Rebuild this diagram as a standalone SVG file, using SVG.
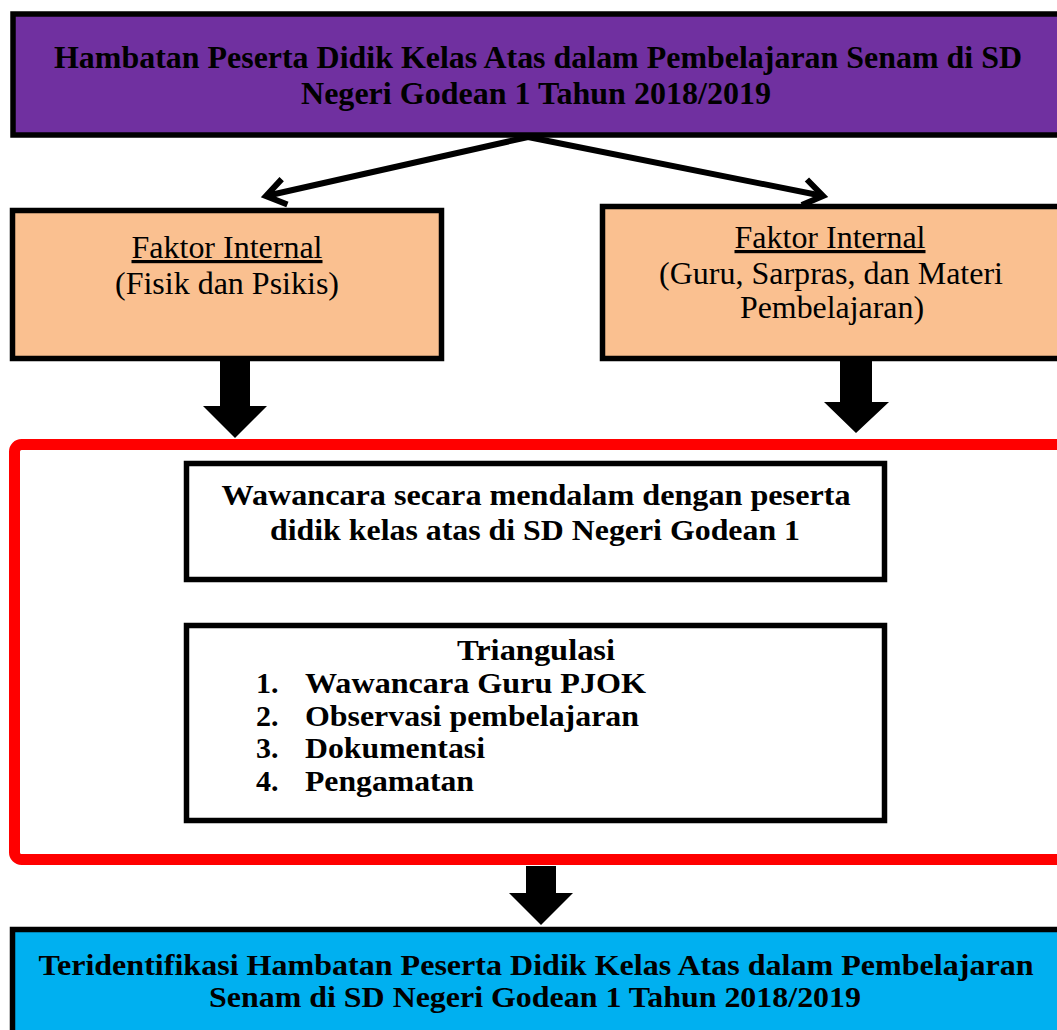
<svg xmlns="http://www.w3.org/2000/svg" width="1057" height="1030" viewBox="0 0 1057 1030">
<style>
.box{stroke:#000;stroke-width:5.5}
.b{font-weight:bold}
.c{text-anchor:middle}
.blk{fill:#000}
.ln{stroke:#000;stroke-width:6;fill:none}
</style>
<defs>
<marker id="chev" markerUnits="userSpaceOnUse" viewBox="-24 -16 28 32" markerWidth="28" markerHeight="32" refX="0" refY="0" orient="auto" overflow="visible">
<path d="M -19 -13 L 0 0 L -19 13" fill="none" stroke="#000" stroke-width="6"/>
</marker>
</defs>
<rect width="1057" height="1030" fill="#fff"/>

<g id="connectors">
<line class="ln" x1="528" y1="137" x2="266" y2="196" marker-end="url(#chev)"/>
<line class="ln" x1="528" y1="137" x2="823" y2="196" marker-end="url(#chev)"/>
<polygon class="blk" points="220,360 250,360 250,406 267,406 235,438 203,406 220,406"/>
<polygon class="blk" points="840,360 872,360 872,402 889,402 856,433 824,402 840,402"/>
<polygon class="blk" points="526,866 556,866 556,893 573,893 541,925 509,893 526,893"/>
</g>

<g id="title" font-family="Liberation Serif, Times New Roman, serif" font-size="32" font-weight="bold" text-anchor="middle">
<rect class="box" x="13" y="14" width="1060" height="121" fill="#7030A0"/>
<text x="538" y="68" textLength="968" lengthAdjust="spacingAndGlyphs">Hambatan Peserta Didik Kelas Atas dalam Pembelajaran Senam di SD</text>
<text x="536" y="104" textLength="470" lengthAdjust="spacingAndGlyphs">Negeri Godean 1 Tahun 2018/2019</text>
</g>

<g id="faktor-left" font-family="Liberation Serif, Times New Roman, serif" font-size="32" text-anchor="middle">
<rect class="box" x="12.5" y="210.5" width="429" height="148" fill="#FAC090"/>
<text x="227" y="258" textLength="191" lengthAdjust="spacingAndGlyphs" text-decoration="underline">Faktor Internal</text>
<text x="227" y="294" textLength="224" lengthAdjust="spacingAndGlyphs">(Fisik dan Psikis)</text>
</g>

<g id="faktor-right" font-family="Liberation Serif, Times New Roman, serif" font-size="32" text-anchor="middle">
<rect class="box" x="602.5" y="206.5" width="470" height="152" fill="#FAC090"/>
<text x="830" y="248" textLength="191" lengthAdjust="spacingAndGlyphs" text-decoration="underline">Faktor Internal</text>
<text x="831" y="284" textLength="344" lengthAdjust="spacingAndGlyphs">(Guru, Sarpras, dan Materi</text>
<text x="832" y="318" textLength="184" lengthAdjust="spacingAndGlyphs">Pembelajaran)</text>
</g>

<g id="metode">
<rect x="14.5" y="444.5" width="1060" height="415" rx="7" fill="#fff" stroke="#FF0000" stroke-width="11"/>
</g>

<g id="wawancara" font-family="Liberation Serif, Times New Roman, serif" font-size="30" font-weight="bold" text-anchor="middle">
<rect class="box" x="186.5" y="463.5" width="698" height="116" fill="#fff"/>
<text x="536" y="505" textLength="629" lengthAdjust="spacingAndGlyphs">Wawancara secara mendalam dengan peserta</text>
<text x="535" y="540" textLength="530" lengthAdjust="spacingAndGlyphs">didik kelas atas di SD Negeri Godean 1</text>
</g>

<g id="triangulasi" font-family="Liberation Serif, Times New Roman, serif" font-size="30" font-weight="bold">
<rect class="box" x="186.5" y="625.5" width="698" height="195" fill="#fff"/>
<text class="c" x="536" y="660" textLength="158" lengthAdjust="spacingAndGlyphs">Triangulasi</text>
<text x="256" y="693">1.</text>
<text x="305" y="693" textLength="341" lengthAdjust="spacingAndGlyphs">Wawancara Guru PJOK</text>
<text x="256" y="726">2.</text>
<text x="305" y="726" textLength="334" lengthAdjust="spacingAndGlyphs">Observasi pembelajaran</text>
<text x="256" y="758">3.</text>
<text x="305" y="758" textLength="180" lengthAdjust="spacingAndGlyphs">Dokumentasi</text>
<text x="256" y="791">4.</text>
<text x="305" y="791" textLength="169" lengthAdjust="spacingAndGlyphs">Pengamatan</text>
</g>

<g id="hasil" font-family="Liberation Serif, Times New Roman, serif" font-size="30" font-weight="bold" text-anchor="middle">
<rect class="box" x="12.5" y="929.5" width="1060" height="120" fill="#00B0F0"/>
<text x="536" y="975" textLength="995" lengthAdjust="spacingAndGlyphs">Teridentifikasi Hambatan Peserta Didik Kelas Atas dalam Pembelajaran</text>
<text x="535" y="1007" textLength="652" lengthAdjust="spacingAndGlyphs">Senam di SD Negeri Godean 1 Tahun 2018/2019</text>
</g>
</svg>
